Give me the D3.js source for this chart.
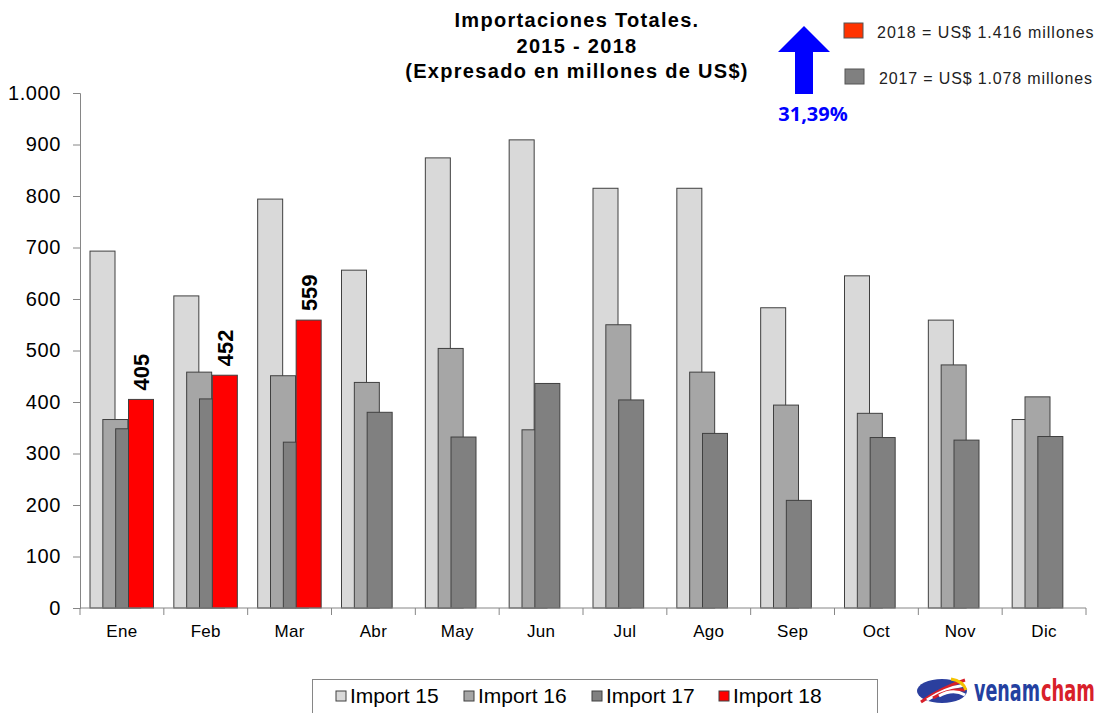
<!DOCTYPE html>
<html>
<head>
<meta charset="utf-8">
<script src="https://cdn.jsdelivr.net/npm/d3@7"></script>
<style>
  body { margin: 0; background: #fff; }
  svg { font-family: Arial, "Liberation Sans", sans-serif; }
</style>
</head>
<body>
<svg id="chart" width="1101" height="713"></svg>
<script>
// DATA
const months = ["Ene", "Feb", "Mar", "Abr", "May", "Jun", "Jul", "Ago", "Sep", "Oct", "Nov", "Dic"];
const seriesNames = ["Import 15", "Import 16", "Import 17", "Import 18"];
const import15 = [693, 606, 794, 656, 874, 909, 815, 815, 583, 645, 559, 366];
const import16 = [366, 458, 451, 438, 504, 346, 550, 458, 394, 378, 472, 410];
const import17 = [348, 406, 322, 380, 332, 436, 404, 339, 209, 331, 326, 333];
const import18 = [405, 452, 559];
const yTicks = [0, 100, 200, 300, 400, 500, 600, 700, 800, 900, 1000];
const titleLines = ["Importaciones Totales.", "2015 - 2018", "(Expresado en millones de US$)"];
const totals = ["2018 = US$ 1.416 millones", "2017 = US$ 1.078 millones"];
const growth = "31,39%";

const colors = ["#d9d9d9", "#a6a6a6", "#808080", "#ff0000"];
const allSeries = [import15, import16, import17, import18];

const svg = d3.select("#chart");
const locale = d3.formatLocale({ decimal: ",", thousands: ".", grouping: [3], currency: ["", ""] });
const fmt = locale.format(",");

// SCALES
const x = d3.scaleBand().domain(months).range([80, 1086]).padding(0);
const xs = d3.scalePoint().domain(seriesNames).range([10, 48.5]);
const barW = 25;
const y = d3.scaleLinear().domain([0, 1000]).range([608, 93]);

// AXES
const yAxis = svg.append("g")
  .attr("transform", "translate(80,0)")
  .call(d3.axisLeft(y).tickValues(yTicks).tickFormat(fmt).tickSize(7).tickPadding(12));
yAxis.select(".domain").attr("stroke", "#868686");
yAxis.selectAll(".tick line").attr("stroke", "#868686");
yAxis.selectAll("text")
  .attr("font-size", 20)
  .attr("letter-spacing", 0.6)
  .attr("fill", "#000")
  .attr("font-family", "Arial, 'Liberation Sans', sans-serif");

// BARS (overlapping, later series on top)
allSeries.forEach((vals, si) => {
  svg.append("g")
    .selectAll("rect")
    .data(vals)
    .enter()
    .append("rect")
    .attr("x", (d, i) => x(months[i]) + xs(seriesNames[si]))
    .attr("y", (d) => y(d))
    .attr("width", barW)
    .attr("height", (d) => y(0) - y(d))
    .attr("fill", colors[si])
    .attr("stroke", "#404040")
    .attr("stroke-width", 1);
});

// bar labels for 2018
svg.append("g")
  .selectAll("text")
  .data(import18)
  .enter()
  .append("text")
  .attr("transform", (d, i) => `translate(${x(months[i]) + xs("Import 18") + barW / 2 + 8},${y(d) - 9}) rotate(-90)`)
  .attr("font-size", 22)
  .attr("font-weight", "bold")
  .text((d) => d);

// x axis
const xAxis = svg.append("g")
  .attr("transform", "translate(0,608)");
xAxis.append("line")
  .attr("x1", 80).attr("x2", 1086)
  .attr("stroke", "#868686");
xAxis.selectAll(".sep")
  .data(months.concat(["_end"]))
  .enter()
  .append("line")
  .attr("x1", (d, i) => 80 + i * x.bandwidth())
  .attr("x2", (d, i) => 80 + i * x.bandwidth())
  .attr("y1", 0).attr("y2", 7)
  .attr("stroke", "#868686");
xAxis.selectAll("text")
  .data(months)
  .enter()
  .append("text")
  .attr("x", (d) => x(d) + x.bandwidth() / 2)
  .attr("y", 29)
  .attr("text-anchor", "middle")
  .attr("font-size", 17)
  .attr("letter-spacing", 0.3)
  .text((d) => d);

// TITLE
svg.append("g")
  .selectAll("text")
  .data(titleLines)
  .enter()
  .append("text")
  .attr("x", 577)
  .attr("y", (d, i) => 27 + i * 25.5)
  .attr("text-anchor", "middle")
  .attr("font-size", 20)
  .attr("letter-spacing", 1.3)
  .attr("font-weight", "bold")
  .text((d) => d);

// ARROW + growth
svg.append("path")
  .attr("d", "M804,26 L830,52 L813,52 L813,94 L795,94 L795,52 L778,52 Z")
  .attr("fill", "#0000ff");
svg.append("text")
  .attr("x", 813).attr("y", 121)
  .attr("text-anchor", "middle")
  .attr("font-size", 20)
  .attr("font-weight", "bold")
  .attr("fill", "#0000ff")
  .attr("font-family", "'Open Sans', sans-serif")
  .text(growth);

// totals legend
const tot = svg.append("g");
tot.append("rect").attr("x", 844).attr("y", 23).attr("width", 19).attr("height", 15)
  .attr("fill", "#ff3300").attr("stroke", "#555");
tot.append("text").attr("x", 877).attr("y", 38).attr("font-size", 16).attr("letter-spacing", 1)
  .attr("fill", "#222").text(totals[0]);
tot.append("rect").attr("x", 845).attr("y", 69).attr("width", 19).attr("height", 15)
  .attr("fill", "#808080").attr("stroke", "#555");
tot.append("text").attr("x", 879).attr("y", 84).attr("font-size", 16).attr("letter-spacing", 0.85)
  .attr("fill", "#222").text(totals[1]);

// BOTTOM LEGEND
svg.append("rect").attr("x", 312.5).attr("y", 679.5).attr("width", 565).attr("height", 40)
  .attr("fill", "#fff").attr("stroke", "#868686");
const legX = [336, 464, 592, 719];
const leg = svg.append("g")
  .selectAll("g")
  .data(seriesNames)
  .enter()
  .append("g")
  .attr("transform", (d, i) => `translate(${legX[i]},690)`);
leg.append("rect").attr("width", 10).attr("height", 10).attr("y", 1)
  .attr("fill", (d, i) => colors[i]).attr("stroke", "#404040");
leg.append("text").attr("x", 14).attr("y", 13).attr("font-size", 21).text((d) => d);

// LOGO (approximation)
const logo = svg.append("g").attr("transform", "translate(917,678)");
logo.append("ellipse").attr("cx", 25).attr("cy", 13).attr("rx", 25).attr("ry", 12).attr("fill", "#2b3f9e");
[0, 1, 2, 3].forEach((k) => {
  logo.append("path")
    .attr("d", `M${4 + k * 6},${24 - k * 2} Q${24 + k * 4},${10} ${48},${2 + k * 5}`)
    .attr("stroke", k % 2 ? "#fff" : "#d8202a")
    .attr("stroke-width", 3)
    .attr("fill", "none");
});
logo.append("path").attr("d", "M34,1 Q46,3 49,12").attr("stroke", "#f5c400").attr("stroke-width", 3).attr("fill", "none");
const word = svg.append("g").attr("transform", "translate(974,701) scale(1,1.5)");
word.append("text").attr("x", 0).attr("y", 0)
  .attr("font-size", 20).attr("font-weight", "bold").attr("fill", "#2340a0")
  .attr("font-family", "'DejaVu Sans Condensed', 'Liberation Sans Narrow', sans-serif")
  .attr("textLength", 66).attr("lengthAdjust", "spacingAndGlyphs")
  .text("venam");
word.append("text").attr("x", 67).attr("y", 0)
  .attr("font-size", 20).attr("font-weight", "bold").attr("fill", "#d8202a")
  .attr("font-family", "'DejaVu Sans Condensed', 'Liberation Sans Narrow', sans-serif")
  .attr("textLength", 54).attr("lengthAdjust", "spacingAndGlyphs")
  .text("cham");
</script>
</body>
</html>
